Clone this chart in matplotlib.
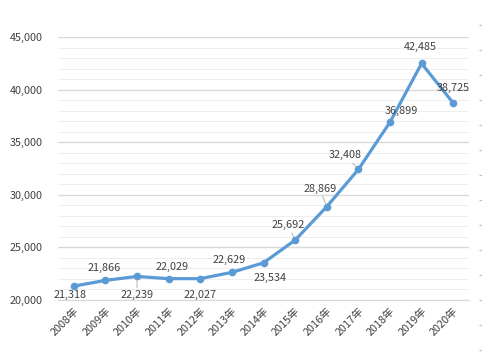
import matplotlib
matplotlib.use('Agg')
import matplotlib.pyplot as plt
import numpy as np
from matplotlib.ticker import MultipleLocator, FuncFormatter

plt.rcParams['font.family'] = ['Noto Sans CJK SC', 'DejaVu Sans']

years = ['2008年', '2009年', '2010年', '2011年', '2012年', '2013年', '2014年',
         '2015年', '2016年', '2017年', '2018年', '2019年', '2020年']
values = [21318, 21866, 22239, 22029, 22027, 22629, 23534,
          25692, 28869, 32408, 36899, 42485, 38725]

# label offsets in pixels (dx, dy) and whether a leader line is drawn
offsets = [(-4, -9), (-1, 12), (0, -19), (3, 12), (0, -16), (-3, 12), (7, -15),
           (-7, 15), (-7, 18), (-13, 14), (11, 11), (-1, 16), (0, 15)]
leaders = [False, False, True, False, False, False, False,
           True, True, True, False, False, False]

LINE = '#5B9BD5'
TXT = '#404040'
FW = 'medium'

fig = plt.figure(figsize=(4.82, 3.58), dpi=100)
ax = fig.add_axes([58 / 482, 58 / 358, 411 / 482, 263 / 358])

x = np.arange(len(years))
ax.plot(x, values, color=LINE, lw=2.3, marker='o', ms=4.5, zorder=3,
        solid_capstyle='round')

for xi, v, (dx, dy), ld in zip(x, values, offsets, leaders):
    kw = {}
    if ld:
        kw['arrowprops'] = dict(arrowstyle='-', color='#a6a6a6', lw=0.6,
                                shrinkA=0, shrinkB=2)
    ax.annotate(f'{v:,}', (xi, v), xytext=(dx, dy), textcoords='offset pixels',
                ha='center', va='center', fontsize=7.8, fontweight=FW,
                color=TXT, zorder=4, **kw)

ax.set_xlim(-0.5, len(years) - 0.5)
ax.set_ylim(20000, 45000)
ax.yaxis.set_major_locator(MultipleLocator(5000))
ax.yaxis.set_minor_locator(MultipleLocator(1000))
ax.yaxis.set_major_formatter(FuncFormatter(lambda v, p: f'{int(v):,}'))
ax.grid(axis='y', which='major', color='#d9d9d9', lw=1.0)
ax.grid(axis='y', which='minor', color='#eeeeee', lw=0.7)
ax.set_axisbelow(True)

ax.set_xticks(x)
ax.set_xticklabels(years, rotation=45, ha='right', rotation_mode='anchor',
                   fontsize=7.8, fontweight=FW, color=TXT)
ax.tick_params(axis='x', length=0, pad=4)
ax.tick_params(axis='y', which='both', length=0, pad=11)
for lb in ax.get_yticklabels():
    lb.set_fontsize(7.8)
    lb.set_fontweight(FW)
    lb.set_color(TXT)
for s in ['top', 'right', 'left']:
    ax.spines[s].set_visible(False)
ax.spines['bottom'].set_color('#d9d9d9')

# small dashes on the right edge of the picture
ax2 = fig.add_axes([479 / 482, 0, 0.001, 1])
ax2.set_ylim(0, 358)
ax2.set_yticks(np.arange(8, 358, 25))
ax2.tick_params(axis='y', direction='in', length=3, color='#bfbfbf',
                labelleft=False, width=0.8)
ax2.set_xticks([])
for s in ax2.spines.values():
    s.set_visible(False)

fig.savefig('out.png', dpi=100)
